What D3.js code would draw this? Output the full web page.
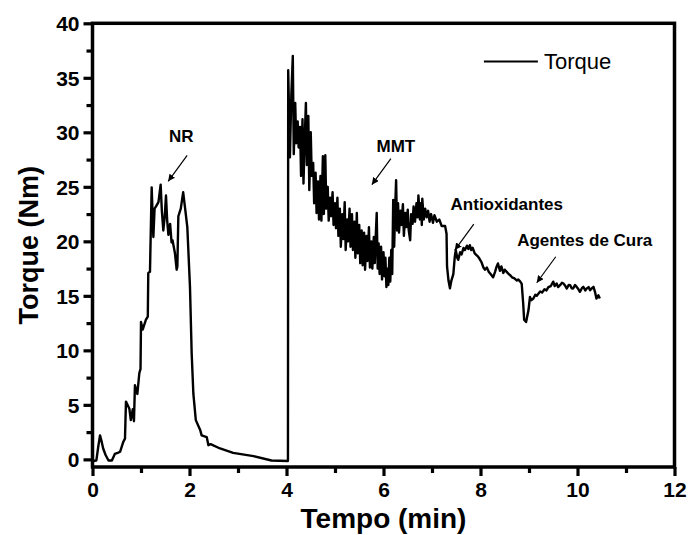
<!DOCTYPE html>
<html>
<head>
<meta charset="utf-8">
<script src="https://cdn.jsdelivr.net/npm/d3@7"></script>
<style>
  body { margin: 0; background: #fff; }
  text { font-family: 'Liberation Sans', Arial, sans-serif; }
</style>
</head>
<body>
<svg id="chart" width="688" height="535"></svg>
<script>
// [tempo (min), torque (Nm)], one array per stage
const mixNR = [
  [0.00, -0.15], [0.08, -0.1], [0.12, 1.2], [0.155, 2.2], [0.19, 1.6], [0.22, 1.0], [0.27, 0.4],
  [0.33, -0.1], [0.40, -0.1], [0.46, 0.5], [0.52, 0.6], [0.57, 0.7], [0.635, 1.6], [0.67, 1.9],
  [0.69, 5.3], [0.76, 4.65], [0.79, 3.6], [0.83, 4.6], [0.855, 3.5], [0.875, 6.8], [0.925, 6.0],
  [0.965, 7.9], [0.99, 8.3], [1.0, 12.6], [1.035, 11.9], [1.10, 12.8], [1.14, 13.1], [1.15, 17.1],
  [1.185, 17.2], [1.22, 24.95], [1.255, 20.4], [1.28, 23.0], [1.31, 23.2], [1.36, 23.6], [1.38, 24.3],
  [1.405, 25.2], [1.43, 22.8], [1.46, 21.0], [1.49, 22.3], [1.515, 24.2], [1.54, 21.9], [1.565, 20.6],
  [1.60, 21.6], [1.63, 19.9], [1.65, 20.1], [1.70, 18.9], [1.735, 17.4], [1.75, 17.7], [1.77, 22.3],
  [1.82, 23.0], [1.87, 24.5], [1.91, 23.0], [1.955, 21.3], [2.01, 15.8], [2.045, 9.7], [2.08, 6.0],
  [2.13, 3.6], [2.22, 2.7], [2.25, 2.2], [2.355, 2.05], [2.39, 1.3], [2.435, 1.4], [2.63, 1.0],
  [2.9, 0.6], [3.32, 0.3], [3.69, -0.1], [4.03, -0.15]
]

const mixMMT = [
  [4.035, 35.7], [4.05, 32.4], [4.07, 27.7], [4.10, 33.5], [4.13, 37.0], [4.15, 28.0], [4.18, 32.7],
  [4.20, 29.0], [4.23, 31.0], [4.25, 28.6], [4.28, 30.5], [4.30, 26.0], [4.33, 31.2], [4.35, 25.3],
  [4.38, 30.0], [4.40, 32.7], [4.42, 27.0], [4.45, 31.5], [4.47, 24.7], [4.50, 30.0], [4.52, 26.0],
  [4.55, 27.2], [4.57, 23.5], [4.60, 26.3], [4.62, 22.6], [4.65, 25.5], [4.67, 22.0], [4.70, 26.0],
  [4.72, 21.9], [4.75, 27.8], [4.77, 22.5], [4.80, 27.9], [4.82, 23.0], [4.85, 25.0], [4.87, 21.9],
  [4.90, 24.0], [4.92, 22.3], [4.95, 24.5], [4.97, 21.5], [5.00, 23.5], [5.02, 21.2], [5.05, 24.0],
  [5.07, 20.5], [5.10, 23.0], [5.12, 19.5], [5.15, 22.5], [5.17, 20.2], [5.20, 23.6], [5.22, 19.2],
  [5.25, 22.0], [5.27, 20.0], [5.30, 23.0], [5.32, 19.5], [5.35, 22.5], [5.37, 19.2], [5.40, 21.8],
  [5.42, 18.5], [5.45, 22.6], [5.47, 18.9], [5.50, 21.5], [5.52, 18.0], [5.55, 21.0], [5.57, 17.8],
  [5.60, 20.8], [5.62, 17.4], [5.65, 20.5], [5.67, 18.2], [5.70, 21.3], [5.72, 17.6], [5.75, 20.0],
  [5.77, 17.5], [5.80, 20.4], [5.82, 18.0], [5.84, 20.5], [5.86, 22.6], [5.88, 17.5], [5.90, 19.8],
  [5.92, 17.0], [5.95, 19.5], [5.97, 16.5], [6.00, 19.0], [6.02, 16.8], [6.04, 18.5], [6.06, 15.8],
  [6.08, 17.5], [6.10, 16.0], [6.12, 18.5], [6.14, 16.3], [6.16, 19.2], [6.18, 17.0], [6.20, 23.8],
  [6.22, 19.5], [6.24, 23.0], [6.26, 25.6], [6.28, 21.0], [6.30, 23.5], [6.32, 20.8], [6.35, 22.8],
  [6.37, 21.5], [6.40, 23.4], [6.42, 20.5], [6.45, 22.6], [6.47, 21.3], [6.50, 22.9], [6.52, 21.0],
  [6.55, 20.1], [6.57, 22.5], [6.60, 21.6], [6.62, 23.2], [6.65, 21.8], [6.68, 23.5], [6.70, 22.2],
  [6.72, 24.2], [6.75, 22.0], [6.77, 23.5], [6.79, 21.5], [6.80, 23.9], [6.83, 22.0], [6.86, 23.0],
  [6.89, 22.2], [6.92, 22.8], [6.95, 21.8], [6.98, 22.5], [7.02, 21.7], [7.05, 22.4], [7.10, 21.8],
  [7.15, 22.0], [7.20, 21.4], [7.27, 21.4], [7.30, 20.7]
]

const mixAntiox = [
  [7.31, 17.7], [7.34, 16.4], [7.37, 15.7], [7.40, 16.4], [7.44, 17.0], [7.47, 18.6], [7.49, 19.2],
  [7.52, 18.5], [7.54, 18.3], [7.58, 19.0], [7.61, 18.8], [7.65, 19.4], [7.68, 19.2], [7.72, 19.6],
  [7.75, 19.3], [7.78, 19.65], [7.81, 19.2], [7.84, 19.4], [7.88, 18.9], [7.95, 18.6], [7.98, 18.4],
  [8.02, 18.1], [8.06, 17.6], [8.09, 17.4], [8.13, 17.6], [8.17, 17.2], [8.20, 17.05], [8.26, 16.7],
  [8.30, 17.2], [8.33, 17.65], [8.36, 17.97], [8.40, 17.3], [8.43, 17.7], [8.47, 17.1], [8.50, 17.4],
  [8.54, 17.2], [8.58, 17.0], [8.61, 16.9], [8.65, 16.7], [8.70, 16.6], [8.75, 16.4], [8.78, 16.5],
  [8.82, 16.3], [8.85, 16.1]
]

const mixCura = [
  [8.88, 14.3], [8.90, 12.8], [8.94, 12.6], [8.99, 13.7], [9.02, 14.9], [9.05, 14.6], [9.09, 14.75],
  [9.13, 15.1], [9.16, 15.0], [9.23, 15.4], [9.27, 15.3], [9.32, 15.6], [9.36, 15.5], [9.40, 15.8],
  [9.45, 15.9], [9.50, 16.3], [9.53, 15.9], [9.57, 16.13], [9.60, 15.8], [9.64, 15.98], [9.68, 16.2],
  [9.71, 16.13], [9.75, 15.9], [9.78, 15.67], [9.82, 16.0], [9.85, 15.98], [9.88, 15.7], [9.91, 15.67],
  [9.95, 16.0], [9.98, 15.83], [10.02, 15.6], [10.05, 15.37], [10.09, 15.7], [10.12, 15.83],
  [10.16, 15.5], [10.19, 15.67], [10.23, 15.8], [10.26, 15.52], [10.30, 15.7], [10.33, 15.83],
  [10.36, 15.37], [10.39, 14.75], [10.43, 15.05], [10.46, 14.75]
]

// annotations: label and the point (tempo, torque) the arrow points at
const annotations = [
  { label: 'NR', t: 1.56, v: 25.5 },
  { label: 'MMT', t: 5.76, v: 25.2 },
  { label: 'Antioxidantes', t: 7.47, v: 19.2 },
  { label: 'Agentes de Cura', t: 9.16, v: 16.2 }
]

const xTicks = [0, 2, 4, 6, 8, 10, 12]
const yTicks = [0, 5, 10, 15, 20, 25, 30, 35, 40]

const width = 688
const height = 535
const margin = { top: 23.3, right: 13.5, bottom: 68, left: 92.5 }
const chartWidth = width - margin.left - margin.right
const chartHeight = height - margin.top - margin.bottom

const x = d3.scaleLinear().domain([0, 12]).range([0, chartWidth])
const y = d3.scaleLinear().domain([-0.7, 40]).range([chartHeight, 0])

const svg = d3
  .select('#chart')
  .append('g')
  .attr('transform', 'translate(' + margin.left + ',' + margin.top + ')')

// torque curve
const curve = mixNR.concat(mixMMT, mixAntiox, mixCura)
const line = d3
  .line()
  .x((d) => x(d[0]))
  .y((d) => y(d[1]))

svg
  .append('path')
  .datum(curve)
  .attr('d', line)
  .attr('fill', 'none')
  .attr('stroke', '#000')
  .attr('stroke-width', 2.4)
  .attr('stroke-linejoin', 'round')

// frame (top and right without ticks)
svg
  .append('rect')
  .attr('x', 0)
  .attr('y', 0)
  .attr('width', chartWidth)
  .attr('height', chartHeight)
  .attr('fill', 'none')
  .attr('stroke', '#000')
  .attr('stroke-width', 3.5)

// minor ticks
const xMinor = d3.range(1, 12, 2)
const yMinor = d3.range(2.5, 40, 5)

const bottomMinor = svg
  .append('g')
  .attr('transform', 'translate(0,' + chartHeight + ')')
  .call(d3.axisBottom(x).tickValues(xMinor).tickSize(6).tickFormat(''))
const leftMinor = svg
  .append('g')
  .call(d3.axisLeft(y).tickValues(yMinor).tickSize(6).tickFormat(''))

// major ticks
const bottomAxis = svg
  .append('g')
  .attr('transform', 'translate(0,' + chartHeight + ')')
  .call(d3.axisBottom(x).tickValues(xTicks).tickSize(9).tickPadding(5).tickFormat(d3.format('d')))
const leftAxis = svg
  .append('g')
  .call(d3.axisLeft(y).tickValues(yTicks).tickSize(9).tickPadding(4).tickFormat(d3.format('d')))

;[bottomMinor, leftMinor, bottomAxis, leftAxis].forEach((g) => {
  g.select('.domain').remove()
  g.selectAll('line').attr('stroke', '#000').attr('stroke-width', 3.2)
  g.selectAll('text')
    .attr('fill', '#000')
    .style('font-size', '21px')
    .style('font-weight', 'bold')
})
bottomAxis.selectAll('text').attr('dy', '0.75em')
leftAxis.selectAll('text').attr('dy', '0.36em')

// axis titles
svg
  .append('text')
  .attr('x', chartWidth / 2)
  .attr('y', chartHeight + 61)
  .attr('text-anchor', 'middle')
  .style('font-size', '28px')
  .style('font-weight', 'bold')
  .text('Tempo (min)')

svg
  .append('text')
  .attr('transform', 'translate(' + (-55) + ',' + chartHeight / 2 + ') rotate(-90)')
  .attr('text-anchor', 'middle')
  .style('font-size', '27px')
  .style('font-weight', 'bold')
  .text('Torque (Nm)')

// legend
const legendLayer = svg.append('g').attr('transform', 'translate(' + x(8.07) + ',' + y(36.5) + ')')
legendLayer
  .append('line')
  .attr('x1', 0)
  .attr('x2', 54)
  .attr('stroke', '#000')
  .attr('stroke-width', 2)
legendLayer
  .append('text')
  .attr('x', 60)
  .attr('y', 7.5)
  .style('font-size', '22px')
  .text('Torque')

// arrows and labels
const defs = d3.select('#chart').append('defs')
defs
  .append('marker')
  .attr('id', 'arrow')
  .attr('viewBox', '0 0 10 10')
  .attr('refX', 10)
  .attr('refY', 5)
  .attr('markerWidth', 7)
  .attr('markerHeight', 7)
  .attr('markerUnits', 'userSpaceOnUse')
  .attr('orient', 'auto')
  .append('path')
  .attr('d', 'M0,0 L10,5 L0,10 Z')
  .attr('fill', '#000')

const labelOffset = {
  NR: [13, -39],
  MMT: [24, -33],
  Antioxidantes: [52, -40],
  'Agentes de Cura': [48, -37]
}

const annLayer = svg.append('g')
annotations.forEach((a) => {
  const px = x(a.t)
  const py = y(a.v)
  annLayer
    .append('line')
    .attr('x1', px + 19)
    .attr('y1', py - 26)
    .attr('x2', px)
    .attr('y2', py)
    .attr('stroke', '#000')
    .attr('stroke-width', 1.2)
    .attr('marker-end', 'url(#arrow)')
  annLayer
    .append('text')
    .attr('x', px + labelOffset[a.label][0])
    .attr('y', py + labelOffset[a.label][1])
    .attr('text-anchor', 'middle')
    .style('font-size', '17px')
    .style('font-weight', 'bold')
    .text(a.label)
})
</script>
</body>
</html>
